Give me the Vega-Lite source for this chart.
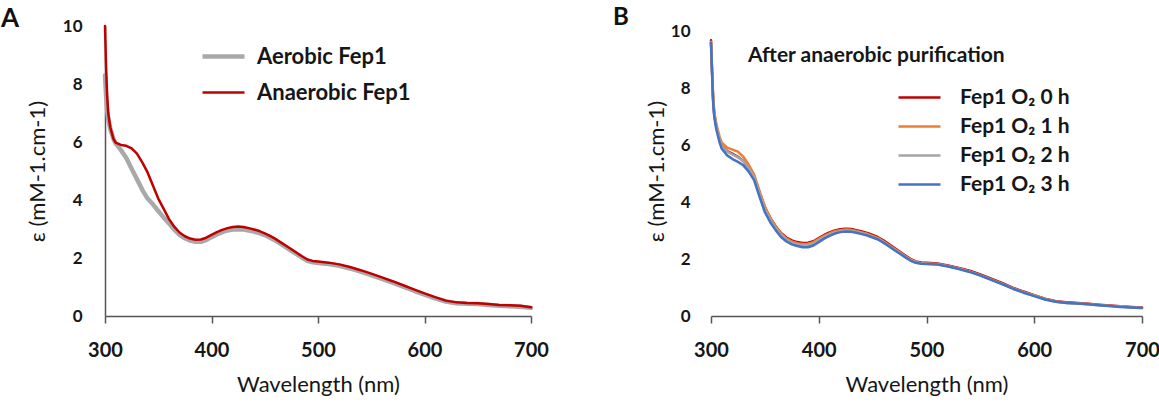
{
  "$schema": "https://vega.github.io/schema/vega-lite/v6.json",
  "padding": {"left": 1, "top": 5, "right": 0, "bottom": 5},
  "background": "white",
  "bounds": "flush",
  "spacing": 180,
  "resolve": {
    "scale": {"x": "independent", "y": "independent", "color": "independent", "strokeWidth": "independent"},
    "axis": {"x": "independent", "y": "independent"},
    "legend": {"color": "independent", "strokeWidth": "independent"}
  },
  "config": {
    "view": {"stroke": null},
    "font": "Lato",
    "title": {"fontSize": 26, "fontWeight": "bold", "color": "#111111", "anchor": "start", "frame": "group", "baseline": "alphabetic"},
    "axis": {
      "grid": false, "labelFlush": false,
      "labelFont": "Lato", "labelFontWeight": "bold", "labelColor": "#161616",
      "titleFont": "Lato", "titleFontSize": 22, "titleFontWeight": "normal", "titleColor": "#161616",
      "domainColor": "#555555", "domainWidth": 1.5, "tickColor": "#555555", "tickWidth": 1.5
    },
    "axisX": {"labelFontSize": 20, "tickSize": 7, "labelPadding": 17, "titlePadding": 14},
    "axisY": {"labelFontSize": 17, "ticks": false, "tickSize": 0},
    "legend": {
      "orient": "none", "symbolType": "stroke", "symbolSize": 1764,
      "labelFont": "Lato", "labelFontWeight": "bold", "labelColor": "#161616",
      "titleFont": "Lato", "titleFontWeight": "bold", "titleColor": "#161616", "titleLimit": 600, "labelLimit": 400
    }
  },
  "datasets": {
    "panelA": [
      {"series": "Aerobic Fep1", "nm": 300, "eps": 8.3}, {"series": "Aerobic Fep1", "nm": 301, "eps": 7.6}, {"series": "Aerobic Fep1", "nm": 302, "eps": 7.1}, {"series": "Aerobic Fep1", "nm": 303, "eps": 6.8}, {"series": "Aerobic Fep1", "nm": 305, "eps": 6.45}, {"series": "Aerobic Fep1", "nm": 308, "eps": 6.1},
      {"series": "Aerobic Fep1", "nm": 310, "eps": 5.95}, {"series": "Aerobic Fep1", "nm": 315, "eps": 5.72}, {"series": "Aerobic Fep1", "nm": 320, "eps": 5.45}, {"series": "Aerobic Fep1", "nm": 325, "eps": 5.08}, {"series": "Aerobic Fep1", "nm": 330, "eps": 4.72}, {"series": "Aerobic Fep1", "nm": 335, "eps": 4.35},
      {"series": "Aerobic Fep1", "nm": 340, "eps": 4.05}, {"series": "Aerobic Fep1", "nm": 345, "eps": 3.85}, {"series": "Aerobic Fep1", "nm": 350, "eps": 3.62}, {"series": "Aerobic Fep1", "nm": 355, "eps": 3.4}, {"series": "Aerobic Fep1", "nm": 360, "eps": 3.2}, {"series": "Aerobic Fep1", "nm": 365, "eps": 2.98},
      {"series": "Aerobic Fep1", "nm": 370, "eps": 2.8}, {"series": "Aerobic Fep1", "nm": 375, "eps": 2.68}, {"series": "Aerobic Fep1", "nm": 380, "eps": 2.6}, {"series": "Aerobic Fep1", "nm": 385, "eps": 2.56}, {"series": "Aerobic Fep1", "nm": 390, "eps": 2.56}, {"series": "Aerobic Fep1", "nm": 395, "eps": 2.62},
      {"series": "Aerobic Fep1", "nm": 400, "eps": 2.72}, {"series": "Aerobic Fep1", "nm": 405, "eps": 2.81}, {"series": "Aerobic Fep1", "nm": 410, "eps": 2.89}, {"series": "Aerobic Fep1", "nm": 415, "eps": 2.95}, {"series": "Aerobic Fep1", "nm": 420, "eps": 2.98}, {"series": "Aerobic Fep1", "nm": 425, "eps": 2.99},
      {"series": "Aerobic Fep1", "nm": 430, "eps": 2.98}, {"series": "Aerobic Fep1", "nm": 435, "eps": 2.95}, {"series": "Aerobic Fep1", "nm": 440, "eps": 2.91}, {"series": "Aerobic Fep1", "nm": 445, "eps": 2.86}, {"series": "Aerobic Fep1", "nm": 450, "eps": 2.79}, {"series": "Aerobic Fep1", "nm": 455, "eps": 2.7},
      {"series": "Aerobic Fep1", "nm": 460, "eps": 2.6}, {"series": "Aerobic Fep1", "nm": 465, "eps": 2.49}, {"series": "Aerobic Fep1", "nm": 470, "eps": 2.37}, {"series": "Aerobic Fep1", "nm": 475, "eps": 2.25}, {"series": "Aerobic Fep1", "nm": 480, "eps": 2.13}, {"series": "Aerobic Fep1", "nm": 485, "eps": 2.01},
      {"series": "Aerobic Fep1", "nm": 490, "eps": 1.9}, {"series": "Aerobic Fep1", "nm": 495, "eps": 1.85}, {"series": "Aerobic Fep1", "nm": 500, "eps": 1.83}, {"series": "Aerobic Fep1", "nm": 510, "eps": 1.79}, {"series": "Aerobic Fep1", "nm": 520, "eps": 1.73}, {"series": "Aerobic Fep1", "nm": 530, "eps": 1.64},
      {"series": "Aerobic Fep1", "nm": 540, "eps": 1.53}, {"series": "Aerobic Fep1", "nm": 550, "eps": 1.41}, {"series": "Aerobic Fep1", "nm": 560, "eps": 1.28}, {"series": "Aerobic Fep1", "nm": 570, "eps": 1.15}, {"series": "Aerobic Fep1", "nm": 580, "eps": 1.01}, {"series": "Aerobic Fep1", "nm": 590, "eps": 0.87},
      {"series": "Aerobic Fep1", "nm": 600, "eps": 0.74}, {"series": "Aerobic Fep1", "nm": 610, "eps": 0.61}, {"series": "Aerobic Fep1", "nm": 620, "eps": 0.5}, {"series": "Aerobic Fep1", "nm": 630, "eps": 0.44}, {"series": "Aerobic Fep1", "nm": 640, "eps": 0.42}, {"series": "Aerobic Fep1", "nm": 650, "eps": 0.41},
      {"series": "Aerobic Fep1", "nm": 660, "eps": 0.38}, {"series": "Aerobic Fep1", "nm": 670, "eps": 0.35}, {"series": "Aerobic Fep1", "nm": 680, "eps": 0.34}, {"series": "Aerobic Fep1", "nm": 690, "eps": 0.32}, {"series": "Aerobic Fep1", "nm": 700, "eps": 0.28},

      {"series": "Anaerobic Fep1", "nm": 300, "eps": 10.0}, {"series": "Anaerobic Fep1", "nm": 301, "eps": 8.6}, {"series": "Anaerobic Fep1", "nm": 302, "eps": 7.6}, {"series": "Anaerobic Fep1", "nm": 303, "eps": 7.0}, {"series": "Anaerobic Fep1", "nm": 305, "eps": 6.5}, {"series": "Anaerobic Fep1", "nm": 308, "eps": 6.1},
      {"series": "Anaerobic Fep1", "nm": 310, "eps": 5.98}, {"series": "Anaerobic Fep1", "nm": 315, "eps": 5.9}, {"series": "Anaerobic Fep1", "nm": 320, "eps": 5.87}, {"series": "Anaerobic Fep1", "nm": 325, "eps": 5.78}, {"series": "Anaerobic Fep1", "nm": 330, "eps": 5.6}, {"series": "Anaerobic Fep1", "nm": 335, "eps": 5.3},
      {"series": "Anaerobic Fep1", "nm": 340, "eps": 4.95}, {"series": "Anaerobic Fep1", "nm": 345, "eps": 4.5}, {"series": "Anaerobic Fep1", "nm": 350, "eps": 4.05}, {"series": "Anaerobic Fep1", "nm": 355, "eps": 3.7}, {"series": "Anaerobic Fep1", "nm": 360, "eps": 3.35}, {"series": "Anaerobic Fep1", "nm": 365, "eps": 3.08},
      {"series": "Anaerobic Fep1", "nm": 370, "eps": 2.88}, {"series": "Anaerobic Fep1", "nm": 375, "eps": 2.75}, {"series": "Anaerobic Fep1", "nm": 380, "eps": 2.67}, {"series": "Anaerobic Fep1", "nm": 385, "eps": 2.63}, {"series": "Anaerobic Fep1", "nm": 390, "eps": 2.64}, {"series": "Anaerobic Fep1", "nm": 395, "eps": 2.7},
      {"series": "Anaerobic Fep1", "nm": 400, "eps": 2.8}, {"series": "Anaerobic Fep1", "nm": 405, "eps": 2.89}, {"series": "Anaerobic Fep1", "nm": 410, "eps": 2.97}, {"series": "Anaerobic Fep1", "nm": 415, "eps": 3.03}, {"series": "Anaerobic Fep1", "nm": 420, "eps": 3.07}, {"series": "Anaerobic Fep1", "nm": 425, "eps": 3.09},
      {"series": "Anaerobic Fep1", "nm": 430, "eps": 3.07}, {"series": "Anaerobic Fep1", "nm": 435, "eps": 3.03}, {"series": "Anaerobic Fep1", "nm": 440, "eps": 2.98}, {"series": "Anaerobic Fep1", "nm": 445, "eps": 2.93}, {"series": "Anaerobic Fep1", "nm": 450, "eps": 2.85}, {"series": "Anaerobic Fep1", "nm": 455, "eps": 2.76},
      {"series": "Anaerobic Fep1", "nm": 460, "eps": 2.66}, {"series": "Anaerobic Fep1", "nm": 465, "eps": 2.54}, {"series": "Anaerobic Fep1", "nm": 470, "eps": 2.42}, {"series": "Anaerobic Fep1", "nm": 475, "eps": 2.3}, {"series": "Anaerobic Fep1", "nm": 480, "eps": 2.18}, {"series": "Anaerobic Fep1", "nm": 485, "eps": 2.06},
      {"series": "Anaerobic Fep1", "nm": 490, "eps": 1.95}, {"series": "Anaerobic Fep1", "nm": 495, "eps": 1.9}, {"series": "Anaerobic Fep1", "nm": 500, "eps": 1.88}, {"series": "Anaerobic Fep1", "nm": 510, "eps": 1.84}, {"series": "Anaerobic Fep1", "nm": 520, "eps": 1.78}, {"series": "Anaerobic Fep1", "nm": 530, "eps": 1.69},
      {"series": "Anaerobic Fep1", "nm": 540, "eps": 1.58}, {"series": "Anaerobic Fep1", "nm": 550, "eps": 1.46}, {"series": "Anaerobic Fep1", "nm": 560, "eps": 1.33}, {"series": "Anaerobic Fep1", "nm": 570, "eps": 1.2}, {"series": "Anaerobic Fep1", "nm": 580, "eps": 1.06}, {"series": "Anaerobic Fep1", "nm": 590, "eps": 0.92},
      {"series": "Anaerobic Fep1", "nm": 600, "eps": 0.78}, {"series": "Anaerobic Fep1", "nm": 610, "eps": 0.65}, {"series": "Anaerobic Fep1", "nm": 620, "eps": 0.53}, {"series": "Anaerobic Fep1", "nm": 630, "eps": 0.47}, {"series": "Anaerobic Fep1", "nm": 640, "eps": 0.45}, {"series": "Anaerobic Fep1", "nm": 650, "eps": 0.44},
      {"series": "Anaerobic Fep1", "nm": 660, "eps": 0.41}, {"series": "Anaerobic Fep1", "nm": 670, "eps": 0.38}, {"series": "Anaerobic Fep1", "nm": 680, "eps": 0.37}, {"series": "Anaerobic Fep1", "nm": 690, "eps": 0.35}, {"series": "Anaerobic Fep1", "nm": 700, "eps": 0.3}
    ],
    "panelB": [
      {"series": "Fep1 O₂ 0 h", "nm": 300, "eps": 9.7}, {"series": "Fep1 O₂ 0 h", "nm": 301, "eps": 8.6}, {"series": "Fep1 O₂ 0 h", "nm": 302, "eps": 7.6}, {"series": "Fep1 O₂ 0 h", "nm": 303, "eps": 7.1}, {"series": "Fep1 O₂ 0 h", "nm": 305, "eps": 6.65}, {"series": "Fep1 O₂ 0 h", "nm": 308, "eps": 6.2},
      {"series": "Fep1 O₂ 0 h", "nm": 310, "eps": 6.0}, {"series": "Fep1 O₂ 0 h", "nm": 315, "eps": 5.8}, {"series": "Fep1 O₂ 0 h", "nm": 320, "eps": 5.7}, {"series": "Fep1 O₂ 0 h", "nm": 325, "eps": 5.6}, {"series": "Fep1 O₂ 0 h", "nm": 330, "eps": 5.45}, {"series": "Fep1 O₂ 0 h", "nm": 335, "eps": 5.2},
      {"series": "Fep1 O₂ 0 h", "nm": 340, "eps": 4.9}, {"series": "Fep1 O₂ 0 h", "nm": 345, "eps": 4.35}, {"series": "Fep1 O₂ 0 h", "nm": 350, "eps": 3.82}, {"series": "Fep1 O₂ 0 h", "nm": 355, "eps": 3.45}, {"series": "Fep1 O₂ 0 h", "nm": 360, "eps": 3.16}, {"series": "Fep1 O₂ 0 h", "nm": 365, "eps": 2.92},
      {"series": "Fep1 O₂ 0 h", "nm": 370, "eps": 2.76}, {"series": "Fep1 O₂ 0 h", "nm": 375, "eps": 2.66}, {"series": "Fep1 O₂ 0 h", "nm": 380, "eps": 2.6}, {"series": "Fep1 O₂ 0 h", "nm": 385, "eps": 2.57}, {"series": "Fep1 O₂ 0 h", "nm": 390, "eps": 2.58}, {"series": "Fep1 O₂ 0 h", "nm": 395, "eps": 2.63},
      {"series": "Fep1 O₂ 0 h", "nm": 400, "eps": 2.74}, {"series": "Fep1 O₂ 0 h", "nm": 405, "eps": 2.85}, {"series": "Fep1 O₂ 0 h", "nm": 410, "eps": 2.94}, {"series": "Fep1 O₂ 0 h", "nm": 415, "eps": 3.01}, {"series": "Fep1 O₂ 0 h", "nm": 420, "eps": 3.05}, {"series": "Fep1 O₂ 0 h", "nm": 425, "eps": 3.07},
      {"series": "Fep1 O₂ 0 h", "nm": 430, "eps": 3.06}, {"series": "Fep1 O₂ 0 h", "nm": 435, "eps": 3.02}, {"series": "Fep1 O₂ 0 h", "nm": 440, "eps": 2.97}, {"series": "Fep1 O₂ 0 h", "nm": 445, "eps": 2.92}, {"series": "Fep1 O₂ 0 h", "nm": 450, "eps": 2.85}, {"series": "Fep1 O₂ 0 h", "nm": 455, "eps": 2.77},
      {"series": "Fep1 O₂ 0 h", "nm": 460, "eps": 2.66}, {"series": "Fep1 O₂ 0 h", "nm": 465, "eps": 2.53}, {"series": "Fep1 O₂ 0 h", "nm": 470, "eps": 2.4}, {"series": "Fep1 O₂ 0 h", "nm": 475, "eps": 2.27}, {"series": "Fep1 O₂ 0 h", "nm": 480, "eps": 2.14}, {"series": "Fep1 O₂ 0 h", "nm": 485, "eps": 2.01},
      {"series": "Fep1 O₂ 0 h", "nm": 490, "eps": 1.92}, {"series": "Fep1 O₂ 0 h", "nm": 495, "eps": 1.88}, {"series": "Fep1 O₂ 0 h", "nm": 500, "eps": 1.87}, {"series": "Fep1 O₂ 0 h", "nm": 510, "eps": 1.85}, {"series": "Fep1 O₂ 0 h", "nm": 520, "eps": 1.78}, {"series": "Fep1 O₂ 0 h", "nm": 530, "eps": 1.69},
      {"series": "Fep1 O₂ 0 h", "nm": 540, "eps": 1.59}, {"series": "Fep1 O₂ 0 h", "nm": 550, "eps": 1.46}, {"series": "Fep1 O₂ 0 h", "nm": 560, "eps": 1.31}, {"series": "Fep1 O₂ 0 h", "nm": 570, "eps": 1.16}, {"series": "Fep1 O₂ 0 h", "nm": 580, "eps": 1.0}, {"series": "Fep1 O₂ 0 h", "nm": 590, "eps": 0.86},
      {"series": "Fep1 O₂ 0 h", "nm": 600, "eps": 0.73}, {"series": "Fep1 O₂ 0 h", "nm": 610, "eps": 0.61}, {"series": "Fep1 O₂ 0 h", "nm": 620, "eps": 0.52}, {"series": "Fep1 O₂ 0 h", "nm": 630, "eps": 0.48}, {"series": "Fep1 O₂ 0 h", "nm": 640, "eps": 0.46}, {"series": "Fep1 O₂ 0 h", "nm": 650, "eps": 0.43},
      {"series": "Fep1 O₂ 0 h", "nm": 660, "eps": 0.4}, {"series": "Fep1 O₂ 0 h", "nm": 670, "eps": 0.37}, {"series": "Fep1 O₂ 0 h", "nm": 680, "eps": 0.34}, {"series": "Fep1 O₂ 0 h", "nm": 690, "eps": 0.32}, {"series": "Fep1 O₂ 0 h", "nm": 700, "eps": 0.3},

      {"series": "Fep1 O₂ 1 h", "nm": 300, "eps": 9.65}, {"series": "Fep1 O₂ 1 h", "nm": 301, "eps": 8.6}, {"series": "Fep1 O₂ 1 h", "nm": 302, "eps": 7.7}, {"series": "Fep1 O₂ 1 h", "nm": 303, "eps": 7.2}, {"series": "Fep1 O₂ 1 h", "nm": 305, "eps": 6.75}, {"series": "Fep1 O₂ 1 h", "nm": 308, "eps": 6.3},
      {"series": "Fep1 O₂ 1 h", "nm": 310, "eps": 6.1}, {"series": "Fep1 O₂ 1 h", "nm": 315, "eps": 5.92}, {"series": "Fep1 O₂ 1 h", "nm": 320, "eps": 5.85}, {"series": "Fep1 O₂ 1 h", "nm": 325, "eps": 5.78}, {"series": "Fep1 O₂ 1 h", "nm": 330, "eps": 5.6}, {"series": "Fep1 O₂ 1 h", "nm": 335, "eps": 5.32},
      {"series": "Fep1 O₂ 1 h", "nm": 340, "eps": 4.98}, {"series": "Fep1 O₂ 1 h", "nm": 345, "eps": 4.4}, {"series": "Fep1 O₂ 1 h", "nm": 350, "eps": 3.85}, {"series": "Fep1 O₂ 1 h", "nm": 355, "eps": 3.45}, {"series": "Fep1 O₂ 1 h", "nm": 360, "eps": 3.15}, {"series": "Fep1 O₂ 1 h", "nm": 365, "eps": 2.9},
      {"series": "Fep1 O₂ 1 h", "nm": 370, "eps": 2.73}, {"series": "Fep1 O₂ 1 h", "nm": 375, "eps": 2.62}, {"series": "Fep1 O₂ 1 h", "nm": 380, "eps": 2.56}, {"series": "Fep1 O₂ 1 h", "nm": 385, "eps": 2.53}, {"series": "Fep1 O₂ 1 h", "nm": 390, "eps": 2.54}, {"series": "Fep1 O₂ 1 h", "nm": 395, "eps": 2.6},
      {"series": "Fep1 O₂ 1 h", "nm": 400, "eps": 2.71}, {"series": "Fep1 O₂ 1 h", "nm": 405, "eps": 2.82}, {"series": "Fep1 O₂ 1 h", "nm": 410, "eps": 2.91}, {"series": "Fep1 O₂ 1 h", "nm": 415, "eps": 2.98}, {"series": "Fep1 O₂ 1 h", "nm": 420, "eps": 3.02}, {"series": "Fep1 O₂ 1 h", "nm": 425, "eps": 3.04},
      {"series": "Fep1 O₂ 1 h", "nm": 430, "eps": 3.03}, {"series": "Fep1 O₂ 1 h", "nm": 435, "eps": 2.99}, {"series": "Fep1 O₂ 1 h", "nm": 440, "eps": 2.94}, {"series": "Fep1 O₂ 1 h", "nm": 445, "eps": 2.89}, {"series": "Fep1 O₂ 1 h", "nm": 450, "eps": 2.82}, {"series": "Fep1 O₂ 1 h", "nm": 455, "eps": 2.74},
      {"series": "Fep1 O₂ 1 h", "nm": 460, "eps": 2.63}, {"series": "Fep1 O₂ 1 h", "nm": 465, "eps": 2.5}, {"series": "Fep1 O₂ 1 h", "nm": 470, "eps": 2.37}, {"series": "Fep1 O₂ 1 h", "nm": 475, "eps": 2.24}, {"series": "Fep1 O₂ 1 h", "nm": 480, "eps": 2.11}, {"series": "Fep1 O₂ 1 h", "nm": 485, "eps": 1.99},
      {"series": "Fep1 O₂ 1 h", "nm": 490, "eps": 1.9}, {"series": "Fep1 O₂ 1 h", "nm": 495, "eps": 1.86}, {"series": "Fep1 O₂ 1 h", "nm": 500, "eps": 1.85}, {"series": "Fep1 O₂ 1 h", "nm": 510, "eps": 1.83}, {"series": "Fep1 O₂ 1 h", "nm": 520, "eps": 1.76}, {"series": "Fep1 O₂ 1 h", "nm": 530, "eps": 1.67},
      {"series": "Fep1 O₂ 1 h", "nm": 540, "eps": 1.57}, {"series": "Fep1 O₂ 1 h", "nm": 550, "eps": 1.44}, {"series": "Fep1 O₂ 1 h", "nm": 560, "eps": 1.29}, {"series": "Fep1 O₂ 1 h", "nm": 570, "eps": 1.14}, {"series": "Fep1 O₂ 1 h", "nm": 580, "eps": 0.98}, {"series": "Fep1 O₂ 1 h", "nm": 590, "eps": 0.84},
      {"series": "Fep1 O₂ 1 h", "nm": 600, "eps": 0.72}, {"series": "Fep1 O₂ 1 h", "nm": 610, "eps": 0.6}, {"series": "Fep1 O₂ 1 h", "nm": 620, "eps": 0.51}, {"series": "Fep1 O₂ 1 h", "nm": 630, "eps": 0.47}, {"series": "Fep1 O₂ 1 h", "nm": 640, "eps": 0.45}, {"series": "Fep1 O₂ 1 h", "nm": 650, "eps": 0.42},
      {"series": "Fep1 O₂ 1 h", "nm": 660, "eps": 0.39}, {"series": "Fep1 O₂ 1 h", "nm": 670, "eps": 0.36}, {"series": "Fep1 O₂ 1 h", "nm": 680, "eps": 0.33}, {"series": "Fep1 O₂ 1 h", "nm": 690, "eps": 0.31}, {"series": "Fep1 O₂ 1 h", "nm": 700, "eps": 0.29},

      {"series": "Fep1 O₂ 2 h", "nm": 300, "eps": 9.6}, {"series": "Fep1 O₂ 2 h", "nm": 301, "eps": 8.55}, {"series": "Fep1 O₂ 2 h", "nm": 302, "eps": 7.6}, {"series": "Fep1 O₂ 2 h", "nm": 303, "eps": 7.1}, {"series": "Fep1 O₂ 2 h", "nm": 305, "eps": 6.65}, {"series": "Fep1 O₂ 2 h", "nm": 308, "eps": 6.2},
      {"series": "Fep1 O₂ 2 h", "nm": 310, "eps": 5.98}, {"series": "Fep1 O₂ 2 h", "nm": 315, "eps": 5.78}, {"series": "Fep1 O₂ 2 h", "nm": 320, "eps": 5.68}, {"series": "Fep1 O₂ 2 h", "nm": 325, "eps": 5.58}, {"series": "Fep1 O₂ 2 h", "nm": 330, "eps": 5.45}, {"series": "Fep1 O₂ 2 h", "nm": 335, "eps": 5.2},
      {"series": "Fep1 O₂ 2 h", "nm": 340, "eps": 4.88}, {"series": "Fep1 O₂ 2 h", "nm": 345, "eps": 4.3}, {"series": "Fep1 O₂ 2 h", "nm": 350, "eps": 3.75}, {"series": "Fep1 O₂ 2 h", "nm": 355, "eps": 3.38}, {"series": "Fep1 O₂ 2 h", "nm": 360, "eps": 3.09}, {"series": "Fep1 O₂ 2 h", "nm": 365, "eps": 2.85},
      {"series": "Fep1 O₂ 2 h", "nm": 370, "eps": 2.68}, {"series": "Fep1 O₂ 2 h", "nm": 375, "eps": 2.58}, {"series": "Fep1 O₂ 2 h", "nm": 380, "eps": 2.52}, {"series": "Fep1 O₂ 2 h", "nm": 385, "eps": 2.49}, {"series": "Fep1 O₂ 2 h", "nm": 390, "eps": 2.49}, {"series": "Fep1 O₂ 2 h", "nm": 395, "eps": 2.55},
      {"series": "Fep1 O₂ 2 h", "nm": 400, "eps": 2.66}, {"series": "Fep1 O₂ 2 h", "nm": 405, "eps": 2.78}, {"series": "Fep1 O₂ 2 h", "nm": 410, "eps": 2.87}, {"series": "Fep1 O₂ 2 h", "nm": 415, "eps": 2.94}, {"series": "Fep1 O₂ 2 h", "nm": 420, "eps": 2.99}, {"series": "Fep1 O₂ 2 h", "nm": 425, "eps": 3.01},
      {"series": "Fep1 O₂ 2 h", "nm": 430, "eps": 3.0}, {"series": "Fep1 O₂ 2 h", "nm": 435, "eps": 2.96}, {"series": "Fep1 O₂ 2 h", "nm": 440, "eps": 2.91}, {"series": "Fep1 O₂ 2 h", "nm": 445, "eps": 2.86}, {"series": "Fep1 O₂ 2 h", "nm": 450, "eps": 2.79}, {"series": "Fep1 O₂ 2 h", "nm": 455, "eps": 2.71},
      {"series": "Fep1 O₂ 2 h", "nm": 460, "eps": 2.6}, {"series": "Fep1 O₂ 2 h", "nm": 465, "eps": 2.47}, {"series": "Fep1 O₂ 2 h", "nm": 470, "eps": 2.34}, {"series": "Fep1 O₂ 2 h", "nm": 475, "eps": 2.22}, {"series": "Fep1 O₂ 2 h", "nm": 480, "eps": 2.09}, {"series": "Fep1 O₂ 2 h", "nm": 485, "eps": 1.97},
      {"series": "Fep1 O₂ 2 h", "nm": 490, "eps": 1.89}, {"series": "Fep1 O₂ 2 h", "nm": 495, "eps": 1.85}, {"series": "Fep1 O₂ 2 h", "nm": 500, "eps": 1.84}, {"series": "Fep1 O₂ 2 h", "nm": 510, "eps": 1.82}, {"series": "Fep1 O₂ 2 h", "nm": 520, "eps": 1.75}, {"series": "Fep1 O₂ 2 h", "nm": 530, "eps": 1.66},
      {"series": "Fep1 O₂ 2 h", "nm": 540, "eps": 1.56}, {"series": "Fep1 O₂ 2 h", "nm": 550, "eps": 1.43}, {"series": "Fep1 O₂ 2 h", "nm": 560, "eps": 1.28}, {"series": "Fep1 O₂ 2 h", "nm": 570, "eps": 1.13}, {"series": "Fep1 O₂ 2 h", "nm": 580, "eps": 0.97}, {"series": "Fep1 O₂ 2 h", "nm": 590, "eps": 0.83},
      {"series": "Fep1 O₂ 2 h", "nm": 600, "eps": 0.71}, {"series": "Fep1 O₂ 2 h", "nm": 610, "eps": 0.59}, {"series": "Fep1 O₂ 2 h", "nm": 620, "eps": 0.5}, {"series": "Fep1 O₂ 2 h", "nm": 630, "eps": 0.46}, {"series": "Fep1 O₂ 2 h", "nm": 640, "eps": 0.44}, {"series": "Fep1 O₂ 2 h", "nm": 650, "eps": 0.41},
      {"series": "Fep1 O₂ 2 h", "nm": 660, "eps": 0.38}, {"series": "Fep1 O₂ 2 h", "nm": 670, "eps": 0.35}, {"series": "Fep1 O₂ 2 h", "nm": 680, "eps": 0.33}, {"series": "Fep1 O₂ 2 h", "nm": 690, "eps": 0.3}, {"series": "Fep1 O₂ 2 h", "nm": 700, "eps": 0.28},

      {"series": "Fep1 O₂ 3 h", "nm": 300, "eps": 9.6}, {"series": "Fep1 O₂ 3 h", "nm": 301, "eps": 8.5}, {"series": "Fep1 O₂ 3 h", "nm": 302, "eps": 7.5}, {"series": "Fep1 O₂ 3 h", "nm": 303, "eps": 7.0}, {"series": "Fep1 O₂ 3 h", "nm": 305, "eps": 6.55}, {"series": "Fep1 O₂ 3 h", "nm": 308, "eps": 6.1},
      {"series": "Fep1 O₂ 3 h", "nm": 310, "eps": 5.88}, {"series": "Fep1 O₂ 3 h", "nm": 315, "eps": 5.65}, {"series": "Fep1 O₂ 3 h", "nm": 320, "eps": 5.52}, {"series": "Fep1 O₂ 3 h", "nm": 325, "eps": 5.42}, {"series": "Fep1 O₂ 3 h", "nm": 330, "eps": 5.3}, {"series": "Fep1 O₂ 3 h", "nm": 335, "eps": 5.08},
      {"series": "Fep1 O₂ 3 h", "nm": 340, "eps": 4.78}, {"series": "Fep1 O₂ 3 h", "nm": 345, "eps": 4.2}, {"series": "Fep1 O₂ 3 h", "nm": 350, "eps": 3.65}, {"series": "Fep1 O₂ 3 h", "nm": 355, "eps": 3.3}, {"series": "Fep1 O₂ 3 h", "nm": 360, "eps": 3.02}, {"series": "Fep1 O₂ 3 h", "nm": 365, "eps": 2.78},
      {"series": "Fep1 O₂ 3 h", "nm": 370, "eps": 2.62}, {"series": "Fep1 O₂ 3 h", "nm": 375, "eps": 2.52}, {"series": "Fep1 O₂ 3 h", "nm": 380, "eps": 2.46}, {"series": "Fep1 O₂ 3 h", "nm": 385, "eps": 2.42}, {"series": "Fep1 O₂ 3 h", "nm": 390, "eps": 2.42}, {"series": "Fep1 O₂ 3 h", "nm": 395, "eps": 2.48},
      {"series": "Fep1 O₂ 3 h", "nm": 400, "eps": 2.6}, {"series": "Fep1 O₂ 3 h", "nm": 405, "eps": 2.72}, {"series": "Fep1 O₂ 3 h", "nm": 410, "eps": 2.82}, {"series": "Fep1 O₂ 3 h", "nm": 415, "eps": 2.9}, {"series": "Fep1 O₂ 3 h", "nm": 420, "eps": 2.95}, {"series": "Fep1 O₂ 3 h", "nm": 425, "eps": 2.97},
      {"series": "Fep1 O₂ 3 h", "nm": 430, "eps": 2.96}, {"series": "Fep1 O₂ 3 h", "nm": 435, "eps": 2.93}, {"series": "Fep1 O₂ 3 h", "nm": 440, "eps": 2.88}, {"series": "Fep1 O₂ 3 h", "nm": 445, "eps": 2.83}, {"series": "Fep1 O₂ 3 h", "nm": 450, "eps": 2.76}, {"series": "Fep1 O₂ 3 h", "nm": 455, "eps": 2.69},
      {"series": "Fep1 O₂ 3 h", "nm": 460, "eps": 2.58}, {"series": "Fep1 O₂ 3 h", "nm": 465, "eps": 2.45}, {"series": "Fep1 O₂ 3 h", "nm": 470, "eps": 2.32}, {"series": "Fep1 O₂ 3 h", "nm": 475, "eps": 2.2}, {"series": "Fep1 O₂ 3 h", "nm": 480, "eps": 2.07}, {"series": "Fep1 O₂ 3 h", "nm": 485, "eps": 1.95},
      {"series": "Fep1 O₂ 3 h", "nm": 490, "eps": 1.87}, {"series": "Fep1 O₂ 3 h", "nm": 495, "eps": 1.84}, {"series": "Fep1 O₂ 3 h", "nm": 500, "eps": 1.83}, {"series": "Fep1 O₂ 3 h", "nm": 510, "eps": 1.81}, {"series": "Fep1 O₂ 3 h", "nm": 520, "eps": 1.74}, {"series": "Fep1 O₂ 3 h", "nm": 530, "eps": 1.65},
      {"series": "Fep1 O₂ 3 h", "nm": 540, "eps": 1.55}, {"series": "Fep1 O₂ 3 h", "nm": 550, "eps": 1.42}, {"series": "Fep1 O₂ 3 h", "nm": 560, "eps": 1.27}, {"series": "Fep1 O₂ 3 h", "nm": 570, "eps": 1.12}, {"series": "Fep1 O₂ 3 h", "nm": 580, "eps": 0.96}, {"series": "Fep1 O₂ 3 h", "nm": 590, "eps": 0.82},
      {"series": "Fep1 O₂ 3 h", "nm": 600, "eps": 0.7}, {"series": "Fep1 O₂ 3 h", "nm": 610, "eps": 0.58}, {"series": "Fep1 O₂ 3 h", "nm": 620, "eps": 0.5}, {"series": "Fep1 O₂ 3 h", "nm": 630, "eps": 0.46}, {"series": "Fep1 O₂ 3 h", "nm": 640, "eps": 0.44}, {"series": "Fep1 O₂ 3 h", "nm": 650, "eps": 0.41},
      {"series": "Fep1 O₂ 3 h", "nm": 660, "eps": 0.38}, {"series": "Fep1 O₂ 3 h", "nm": 670, "eps": 0.35}, {"series": "Fep1 O₂ 3 h", "nm": 680, "eps": 0.32}, {"series": "Fep1 O₂ 3 h", "nm": 690, "eps": 0.3}, {"series": "Fep1 O₂ 3 h", "nm": 700, "eps": 0.28}
    ]
  },
  "hconcat": [
    {
      "width": 426,
      "height": 290,
      "title": {"text": "A", "dx": -104, "offset": -15},
      "data": {"name": "panelA"},
      "mark": {"type": "line", "strokeJoin": "round", "strokeCap": "round"},
      "encoding": {
        "x": {
          "field": "nm", "type": "quantitative",
          "scale": {"domain": [300, 700], "nice": false, "zero": false},
          "axis": {"values": [300, 400, 500, 600, 700], "title": "Wavelength (nm)"}
        },
        "y": {
          "field": "eps", "type": "quantitative",
          "scale": {"domain": [0, 10], "nice": false},
          "axis": {"values": [0, 2, 4, 6, 8, 10], "title": "ε (mM-1.cm-1)", "domain": true, "labelPadding": 23, "titlePadding": 13}
        },
        "color": {
          "field": "series", "type": "nominal",
          "scale": {"domain": ["Aerobic Fep1", "Anaerobic Fep1"], "range": ["#A9A9A9", "#C00000"]},
          "legend": {"title": null, "legendX": 95, "legendY": 14, "labelFontSize": 22, "labelOffset": 10, "clipHeight": 33, "rowPadding": 3}
        },
        "strokeWidth": {
          "field": "series", "type": "nominal",
          "scale": {"domain": ["Aerobic Fep1", "Anaerobic Fep1"], "range": [4.5, 2.5]},
          "legend": {"title": null, "legendX": 95, "legendY": 14, "labelFontSize": 22, "labelOffset": 10, "clipHeight": 33, "rowPadding": 3}
        }
      }
    },
    {
      "width": 431,
      "height": 290,
      "title": {"text": "B", "dx": -98, "offset": -7, "fontSize": 24},
      "data": {"name": "panelB"},
      "mark": {"type": "line", "strokeJoin": "round", "strokeCap": "round"},
      "encoding": {
        "x": {
          "field": "nm", "type": "quantitative",
          "scale": {"domain": [300, 700], "nice": false, "zero": false},
          "axis": {"values": [300, 400, 500, 600, 700], "title": "Wavelength (nm)"}
        },
        "y": {
          "field": "eps", "type": "quantitative",
          "scale": {"domain": [0, 10.2], "nice": false},
          "axis": {"values": [0, 2, 4, 6, 8, 10], "title": "ε (mM-1.cm-1)", "domain": false, "labelPadding": 21, "titlePadding": 2}
        },
        "color": {
          "field": "series", "type": "nominal",
          "scale": {"domain": ["Fep1 O₂ 0 h", "Fep1 O₂ 1 h", "Fep1 O₂ 2 h", "Fep1 O₂ 3 h"], "range": ["#C00000", "#ED7D31", "#A5A5A5", "#4472C4"]},
          "legend": {"title": "After anaerobic purification", "titleFontSize": 21, "titlePadding": 17, "legendX": 37, "legendY": 19, "symbolOffset": 149, "labelFontSize": 21, "labelOffset": 18, "clipHeight": 29, "rowPadding": 0}
        },
        "strokeWidth": {
          "field": "series", "type": "nominal",
          "scale": {"domain": ["Fep1 O₂ 0 h", "Fep1 O₂ 1 h", "Fep1 O₂ 2 h", "Fep1 O₂ 3 h"], "range": [2.5, 2.5, 3.5, 4]},
          "legend": {"title": "After anaerobic purification", "titleFontSize": 21, "titlePadding": 17, "legendX": 37, "legendY": 19, "symbolOffset": 149, "labelFontSize": 21, "labelOffset": 18, "clipHeight": 29, "rowPadding": 0}
        }
      }
    }
  ]
}
